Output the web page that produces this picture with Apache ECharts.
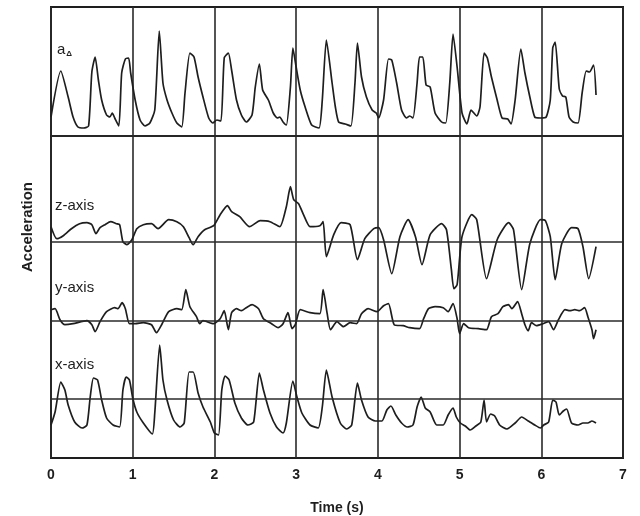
<!DOCTYPE html>
<html>
<head>
<meta charset="utf-8">
<script src="https://cdn.jsdelivr.net/npm/echarts@6/dist/echarts.min.js"></script>
<style>
  html, body { margin: 0; padding: 0; background: #fff; }
  #chart { width: 640px; height: 516px; }
</style>
</head>
<body>
<div id="chart"></div>
<script>
// time ticks (s)
const timeTicks = [0, 1, 2, 3, 4, 5, 6, 7];

// a-delta trace: time (s) / value (arbitrary units above its baseline)
const aDeltaT = [0, 0.12, 0.21, 0.27, 0.33, 0.40, 0.46, 0.50, 0.54, 0.58, 0.62, 0.68, 0.72, 0.75, 0.78, 0.83, 0.865, 0.91, 0.95, 0.975,
  1.03, 1.09, 1.15, 1.21, 1.27, 1.325, 1.37, 1.42, 1.48, 1.54, 1.60, 1.64, 1.70, 1.75, 1.80, 1.86, 1.93, 1.98,
  2.03, 2.08, 2.12, 2.17, 2.21, 2.27, 2.33, 2.39, 2.46, 2.50, 2.55, 2.59, 2.66, 2.72, 2.77, 2.80, 2.84, 2.88, 2.93, 2.96,
  3.00, 3.05, 3.11, 3.19, 3.28, 3.32, 3.37, 3.44, 3.48, 3.52, 3.60, 3.67, 3.72, 3.75, 3.80, 3.86, 3.93, 3.98,
  4.01, 4.07, 4.13, 4.17, 4.23, 4.29, 4.35, 4.39, 4.43, 4.48, 4.51, 4.55, 4.59, 4.64, 4.70, 4.78, 4.83, 4.88, 4.92, 4.97,
  5.03, 5.09, 5.14, 5.21, 5.25, 5.30, 5.34, 5.39, 5.46, 5.52, 5.59, 5.63, 5.68, 5.75, 5.80, 5.86, 5.92, 5.99,
  6.06, 6.11, 6.14, 6.17, 6.22, 6.26, 6.30, 6.34, 6.39, 6.45, 6.50, 6.55, 6.59, 6.64, 6.67];
const aDeltaV = [19, 65, 39, 19, 9, 8, 10, 64, 79, 56, 36, 21, 19, 23, 18, 10, 63, 77, 78, 63,
  36, 16, 10, 13, 26, 105, 53, 36, 23, 13, 9, 43, 83, 79, 59, 39, 18, 13,
  16, 15, 78, 83, 66, 36, 21, 14, 21, 49, 72, 46, 36, 23, 18, 19, 14, 11, 49, 88,
  69, 46, 29, 11, 8, 36, 96, 53, 29, 14, 12, 10, 53, 93, 59, 39, 26, 23,
  18, 36, 77, 76, 53, 26, 18, 20, 18, 53, 79, 79, 51, 49, 23, 14, 13, 53, 102, 69,
  23, 12, 26, 20, 29, 83, 78, 59, 36, 18, 17, 12, 36, 87, 63, 39, 19, 18,
  19, 36, 88, 94, 47, 40, 39, 19, 14, 13, 43, 65, 64, 71, 41];

// z-axis trace
const zAxisT = [0, 0.07, 0.15, 0.25, 0.35, 0.44, 0.50, 0.55, 0.60, 0.66, 0.73, 0.80, 0.84, 0.88, 0.93, 0.99,
  1.05, 1.13, 1.23, 1.31, 1.44, 1.54, 1.62, 1.69, 1.74, 1.80, 1.88, 1.99,
  2.07, 2.16, 2.21, 2.31, 2.43, 2.56, 2.68, 2.80, 2.88, 2.93, 2.97,
  3.03, 3.09, 3.17, 3.29, 3.33, 3.37, 3.46, 3.55, 3.66, 3.75, 3.84, 3.95,
  4.01, 4.07, 4.17, 4.27, 4.37, 4.46, 4.54, 4.64, 4.78, 4.84, 4.90, 4.93, 4.97,
  5.03, 5.15, 5.21, 5.33, 5.46, 5.60, 5.66, 5.76, 5.86, 5.99,
  6.05, 6.11, 6.17, 6.25, 6.37, 6.45, 6.51, 6.58, 6.67];
const zAxisV = [15, 3, 6, 13, 18, 19, 17, 8, 14, 17, 20, 18, 17, 0, -3, 2,
  13, 17, 18, 13, 22, 20, 15, 4, -3, 5, 12, 16,
  27, 36, 30, 25, 15, 21, 20, 15, 35, 55, 42,
  38, 27, 15, 16, 20, -15, 7, 19, 17, -18, 3, 13,
  14, 2, -32, 5, 22, 5, -23, 7, 18, 12, -28, -47, -43,
  5, 27, 22, -37, 2, 19, 12, -48, -2, 22,
  21, 5, -38, -2, 14, 13, -5, -37, -5];

// y-axis trace
const yAxisT = [0, 0.05, 0.11, 0.17, 0.27, 0.44, 0.50, 0.54, 0.60, 0.68, 0.78, 0.82, 0.87, 0.91, 0.96,
  1.03, 1.13, 1.23, 1.29, 1.36, 1.44, 1.54, 1.60, 1.65, 1.70, 1.78, 1.82, 1.86, 1.99,
  2.07, 2.12, 2.17, 2.21, 2.27, 2.33, 2.39, 2.46, 2.54, 2.60, 2.70, 2.78, 2.84, 2.90, 2.95, 2.99,
  3.05, 3.17, 3.29, 3.33, 3.38, 3.42, 3.50, 3.58, 3.66, 3.74, 3.80, 3.88, 3.99,
  4.07, 4.13, 4.20, 4.31, 4.39, 4.51, 4.56, 4.62, 4.70, 4.80, 4.86, 4.92, 4.97, 5.00,
  5.05, 5.11, 5.23, 5.33, 5.39, 5.47, 5.53, 5.60, 5.64, 5.71, 5.76, 5.80, 5.84, 5.88, 5.94,
  6.02, 6.09, 6.15, 6.21, 6.29, 6.35, 6.41, 6.47, 6.53, 6.57, 6.62, 6.64, 6.67];
const yAxisV = [11, 12, 1, -4, -3, 0, -4, -11, -1, 9, 13, 12, 18, 12, -3,
  -3, -2, -4, -12, -3, 9, 12, 11, 31, 14, 4, -3, 0, -3,
  2, 10, -9, 8, 12, 10, 13, 16, 12, 2, -3, -7, -3, 8, -8, -4,
  11, 8, 7, 31, 7, -9, -1, -6, -2, -3, 7, 12, 9,
  15, 17, -4, -5, -7, -8, 2, 12, 14, 13, 9, 17, 2, -13,
  -3, -7, -8, -9, 4, 7, 14, 16, 12, 19, 7, -4, -10, -2, -5,
  -3, -1, -9, 1, 11, 10, 11, 10, 13, 4, -9, -18, -9];

// x-axis trace
const xAxisT = [0, 0.05, 0.12, 0.17, 0.21, 0.29, 0.38, 0.44, 0.48, 0.52, 0.57, 0.62, 0.68, 0.76, 0.84, 0.88, 0.92, 0.96,
  1.00, 1.05, 1.13, 1.24, 1.27, 1.33, 1.37, 1.42, 1.50, 1.58, 1.63, 1.69, 1.74, 1.80, 1.86, 1.95,
  2.00, 2.05, 2.09, 2.13, 2.18, 2.25, 2.33, 2.41, 2.48, 2.55, 2.60, 2.68, 2.76, 2.84, 2.88, 2.96,
  3.01, 3.07, 3.17, 3.27, 3.32, 3.37, 3.44, 3.54, 3.62, 3.68, 3.75, 3.80, 3.88, 3.97,
  4.05, 4.11, 4.16, 4.22, 4.29, 4.36, 4.43, 4.48, 4.53, 4.58, 4.64, 4.72, 4.80, 4.86, 4.92, 4.96,
  5.01, 5.07, 5.13, 5.20, 5.26, 5.30, 5.33, 5.38, 5.43, 5.49, 5.58, 5.68, 5.76, 5.84, 5.92, 5.99,
  6.03, 6.09, 6.14, 6.18, 6.22, 6.27, 6.31, 6.37, 6.45, 6.51, 6.57, 6.62, 6.67];
const xAxisV = [-26, -13, 17, 9, -6, -23, -29, -26, 2, 21, 19, -1, -19, -26, -28, 9, 22, 19,
  1, -13, -24, -35, -14, 54, 19, -1, -21, -28, -24, 27, 27, 6, -8, -23,
  -34, -36, 9, 23, 19, -4, -19, -26, -23, 26, 9, -14, -28, -34, -24, 18,
  2, -14, -26, -29, -8, 29, 2, -24, -30, -26, 16, -1, -18, -22,
  -22, -11, -7, -16, -24, -28, -26, -8, 2, -9, -13, -26, -26, -16, -9, -18,
  -24, -27, -31, -27, -23, -1, -23, -15, -17, -26, -30, -24, -18, -22, -26, -29,
  -26, -23, -1, -3, -16, -12, -10, -24, -26, -24, -24, -22, -24];

// panel labels
const traceLabels = ['a{s|\u0394}', 'z-axis', 'y-axis', 'x-axis'];

const chart = echarts.init(document.getElementById('chart'));

const ink = '#1e1e1e';
const gridBox = { left: 51, right: 17, top: 7, bottom: 58 };
// baseline pixel of each panel inside the plot box
const baselines = [136, 241.7, 320.7, 399];
const plotTop = 7;
const plotBottom = 458;

const traces = [
  [aDeltaT, aDeltaV],
  [zAxisT, zAxisV],
  [yAxisT, yAxisV],
  [xAxisT, xAxisV],
];

const grids = traces.map((_, i) => ({
  ...gridBox,
  outerBoundsMode: 'none',
  containLabel: false,
  show: i === 0,
  borderColor: ink,
  borderWidth: 2,
  backgroundColor: 'transparent',
}));

const xAxes = traces.map((_, i) => ({
  type: 'value',
  gridIndex: i,
  min: 0,
  max: 7,
  interval: 1,
  show: i === 0,
  name: i === 0 ? 'Time (s)' : '',
  nameLocation: 'middle',
  nameGap: 43,
  nameTextStyle: { fontFamily: 'Liberation Sans', fontWeight: 'bold', fontSize: 14, color: ink },
  axisLine: { show: i === 0, lineStyle: { color: ink, width: 2 } },
  axisTick: { show: false },
  axisLabel: {
    show: i === 0,
    margin: 10,
    fontFamily: 'Liberation Sans',
    fontWeight: 'bold',
    fontSize: 14,
    color: ink,
    formatter: (v) => (timeTicks.includes(v) ? String(v) : ''),
  },
  splitLine: { show: i === 0, lineStyle: { color: '#2a2a2a', width: 1.6 } },
}));

const yAxes = traces.map((_, i) => ({
  type: 'value',
  gridIndex: i,
  show: false,
  min: -(plotBottom - baselines[i]),
  max: baselines[i] - plotTop,
  splitLine: { show: false },
}));

const series = traces.map(([t, v], i) => ({
  type: 'line',
  xAxisIndex: i,
  yAxisIndex: i,
  data: t.map((x, k) => [x, v[k]]),
  showSymbol: false,
  symbol: 'none',
  silent: true,
  smooth: 0.2,
  lineStyle: { color: ink, width: 1.7 },
  markLine: {
    silent: true,
    symbol: 'none',
    label: { show: false },
    lineStyle: { color: '#2a2a2a', width: 1.6, type: 'solid' },
    data: [{ yAxis: 0 }],
  },
}));

const labelPos = [[57, 42], [55, 198], [55, 280], [55, 357]];

chart.setOption({
  animation: false,
  backgroundColor: '#fff',
  grid: grids,
  xAxis: xAxes,
  yAxis: yAxes,
  series,
  graphic: [
    ...traceLabels.map((txt, i) => ({
      type: 'text',
      left: labelPos[i][0],
      top: labelPos[i][1],
      style: {
        text: txt,
        fill: ink,
        font: '15px "Liberation Sans", Arial, sans-serif',
        rich: {
          s: { fontSize: 8, fontWeight: 'bold', padding: [8, 0, 0, 1], fill: ink },
        },
      },
    })),
    {
      type: 'text',
      rotation: Math.PI / 2,
      x: 28,
      y: 227,
      style: {
        text: 'Acceleration',
        fill: ink,
        font: 'bold 15px "Liberation Sans", Arial, sans-serif',
        align: 'center',
        verticalAlign: 'middle',
      },
    },
  ],
});
</script>
</body>
</html>
